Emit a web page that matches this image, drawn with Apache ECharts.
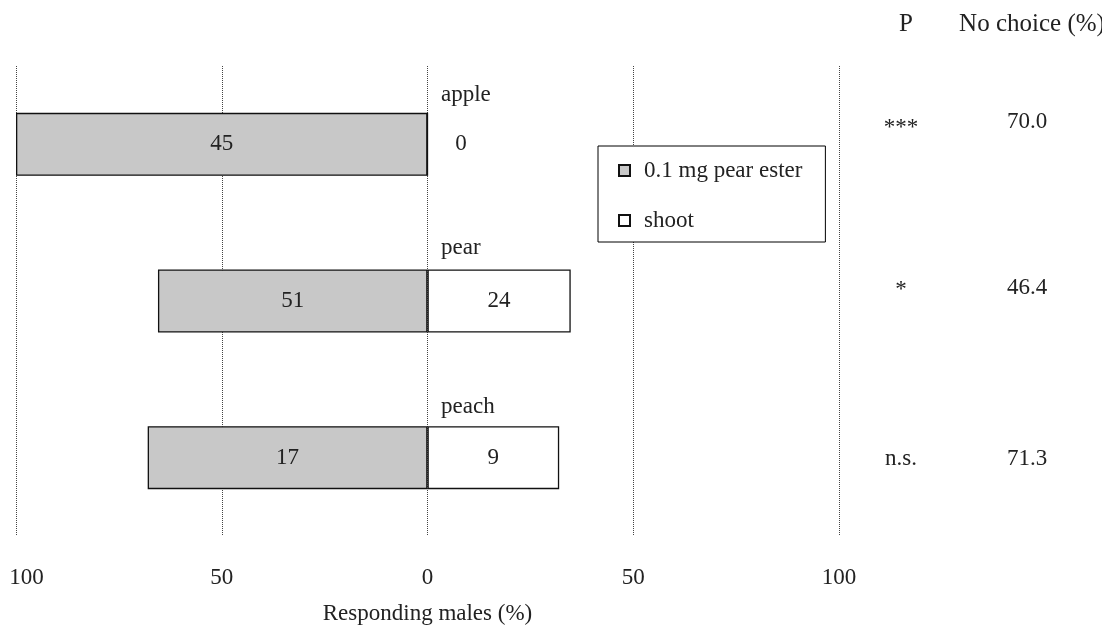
<!DOCTYPE html>
<html>
	<head>
		<meta charset="utf-8">
		<title>Responding males</title>
	</head>
	<body style="margin:0;">
		<!-- chart area -->
		<div id="container" style="width: 1102px;height:625px;"></div>
	</body>
	<script src="https://cdn.jsdelivr.net/npm/echarts@6/dist/echarts.min.js"></script>
	<script type="text/javascript">
		'use strict'
		// data
		var categories = ['apple', 'pear', 'peach'];
		var esterPct = [-100, -65.5, -68];      // bar length, % of responding males
		var shootPct = [0, 34.8, 32];
		var esterCount = [45, 51, 17];         // numbers written in the bars
		var shootCount = [0, 24, 9];
		var pValues = ['***', '*', 'n.s.'];
		var noChoice = ['70.0', '46.4', '71.3'];
		var xTicks = [-100, -50, 0, 50, 100];

		var font = 'Liberation Serif, Times New Roman, serif';
		var txt = '#222';
		var fs = 23;

		// rich style with some bottom (or top) padding, to lift a label off the band centre
		function lift(px) {
			return {
				fontFamily: font, fontSize: fs, color: txt,
				padding: px >= 0 ? [0, 0, px, 0] : [-px, 0, 0, 0]
			};
		}

		var myCharts = echarts.init(document.getElementById('container'));

		var option = {
			animation: false,
			textStyle: { fontFamily: font, color: txt, fontSize: fs },
			title: [
				{ text: 'P', left: 901, top: 7, textAlign: 'center',
				  textStyle: { fontFamily: font, fontWeight: 'normal', fontSize: 25, color: txt } },
				{ text: 'No choice (%)', left: 1027, top: 7, textAlign: 'center',
				  textStyle: { fontFamily: font, fontWeight: 'normal', fontSize: 25, color: txt } }
			],
			legend: {
				orient: 'vertical',
				left: 598,
				top: 146,
				padding: [13, 23, 10, 20],
				itemGap: 27,
				itemWidth: 11,
				itemHeight: 11,
				icon: 'rect',
				backgroundColor: '#fff',
				borderColor: '#000',
				borderWidth: 1,
				textStyle: { fontFamily: font, fontSize: fs, color: txt, padding: [0, 0, 0, 9] },
				data: ['0.1 mg pear ester', 'shoot']
			},
			grid: { left: 16, right: 263, top: 66, bottom: 89, outerBoundsMode: 'none' },
			xAxis: {
				type: 'value',
				min: -100,
				max: 100,
				interval: 50,
				name: 'Responding males (%)',
				nameLocation: 'middle',
				nameGap: 66,
				nameTextStyle: { fontFamily: font, fontSize: fs, color: txt },
				axisLine: { show: false },
				axisTick: { show: false },
				axisLabel: {
					margin: 30, fontFamily: font, fontSize: fs, color: txt,
					formatter: function (v) {
						if (xTicks.indexOf(v) < 0) return '';
						// the leftmost label sits a little inside the chart edge
						return v === -100 ? '{l|100}' : String(Math.abs(v));
					},
					rich: { l: { fontFamily: font, fontSize: fs, color: txt, padding: [0, 0, 0, 21] } }
				},
				splitLine: { show: true, lineStyle: { type: 'dotted', color: '#444', width: 1 } }
			},
			yAxis: [
				{
					// category names, written to the right of the zero line above each bar
					type: 'category',
					inverse: true,
					data: categories,
					position: 'left',
					axisLine: { show: false },
					axisTick: { show: false },
					axisLabel: {
						interval: 0, inside: true, margin: 425, align: 'left',
						formatter: function (v, i) { return '{r' + i + '|' + v + '}'; },
						rich: { r0: lift(99), r1: lift(106), r2: lift(102) }
					}
				},
				{
					// P column
					type: 'category',
					inverse: true,
					data: pValues,
					position: 'right',
					axisLine: { show: false },
					axisTick: { show: false },
					axisLabel: {
						interval: 0, margin: 62, align: 'center',
						formatter: function (v, i) { return '{r' + i + '|' + v + '}'; },
						rich: { r0: lift(32), r1: lift(22), r2: lift(-2) }
					}
				},
				{
					// No choice column
					type: 'category',
					inverse: true,
					data: noChoice,
					position: 'right',
					axisLine: { show: false },
					axisTick: { show: false },
					axisLabel: {
						interval: 0, margin: 188, align: 'center',
						formatter: function (v, i) { return '{r' + i + '|' + v + '}'; },
						rich: { r0: lift(44), r1: lift(27), r2: lift(-2) }
					}
				}
			],
			series: [
				{
					name: '0.1 mg pear ester',
					type: 'bar',
					barWidth: 63,
					barGap: '-100%',
					data: esterPct,
					itemStyle: { color: '#c8c8c8', borderColor: '#111', borderWidth: 1.3 },
					label: {
						show: true, position: 'inside', fontFamily: font, fontSize: fs, color: txt,
						formatter: function (p) { return esterCount[p.dataIndex]; }
					}
				},
				{
					name: 'shoot',
					type: 'bar',
					barWidth: 63,
					barGap: '-100%',
					data: shootPct.map(function (v, i) {
						// a zero bar has its count written just right of the zero line
						return v === 0 ? { value: v, label: { position: 'right', distance: 27 } } : v;
					}),
					itemStyle: { color: '#fff', borderColor: '#111', borderWidth: 1.3 },
					label: {
						show: true, position: 'inside', fontFamily: font, fontSize: fs, color: txt,
						formatter: function (p) { return shootCount[p.dataIndex]; }
					}
				}
			]
		};
		myCharts.setOption(option);
	</script>
</html>
